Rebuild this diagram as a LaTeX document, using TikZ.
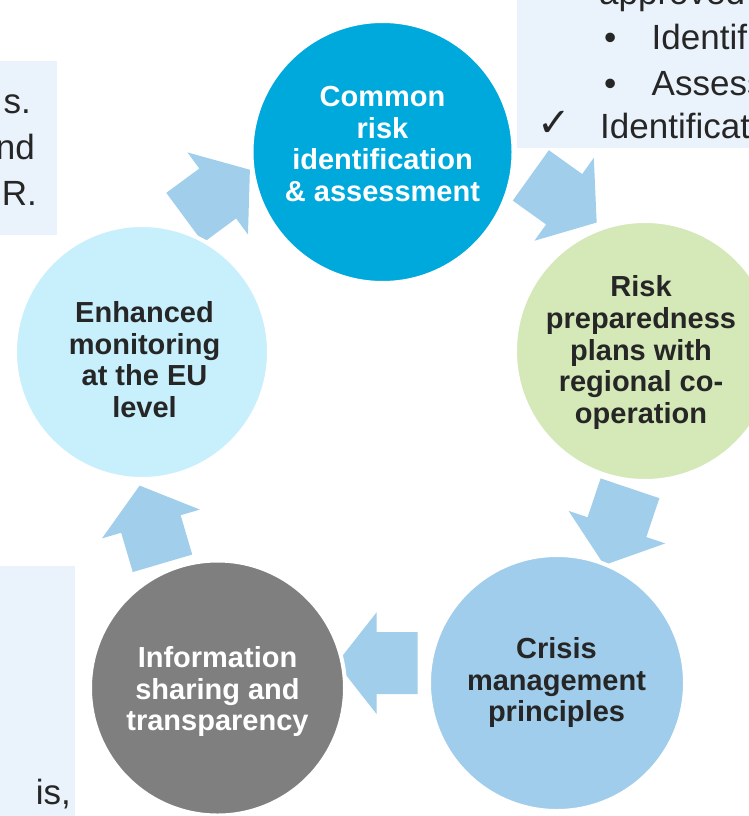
\documentclass[tikz,border=0pt]{standalone}
\usepackage{fontspec}
\setmainfont{Liberation Sans}
\newfontfamily\djv{DejaVu Sans}
\definecolor{cTop}{HTML}{00A9DC}
\definecolor{cGreen}{HTML}{D4E8B8}
\definecolor{cPale}{HTML}{C8F0FC}
\definecolor{cGray}{HTML}{7F7F7F}
\definecolor{cCrisis}{HTML}{9FCDEB}
\definecolor{cArrow}{HTML}{A0CEEB}
\definecolor{cBox}{HTML}{EAF3FB}
\definecolor{cText}{HTML}{262626}
\tikzset{
  circ/.style={circle, draw=white, line width=4pt, inner sep=0pt},
  ctext/.style={inner sep=0pt, align=center, font=\fontsize{29}{31.7}\selectfont\bfseries},
  btext/.style={inner sep=0pt, text=cText, font=\fontsize{35}{42}\selectfont},
  blockarrow/.style={fill=cArrow},
}
\newcommand\barrow[2]{\fill[blockarrow, shift={(#1)}, rotate=#2]
  (0,-31) -- (41,-31) -- (41,-51) -- (81,0) -- (41,51) -- (41,31) -- (0,31) -- cycle;}
\begin{document}
\begin{tikzpicture}[x=1pt,y=-1pt]
\useasboundingbox (0,0) rectangle (749,816);
\clip (0,0) rectangle (749,816);
% side text boxes
\fill[cBox] (0,61) rectangle (57,235);
\fill[cBox] (517,-5) rectangle (760,148);
\fill[cBox] (0,566) rectangle (75,820);
\node[btext, anchor=base east] (l1) at (31,113) {s.};
\node[btext, anchor=base east] (l2) at (35,159) {nd};
\node[btext, anchor=base east] (l3) at (37,205) {R.};
\node[btext, anchor=base west] (r0) at (599,4.5) {approved};
\node[btext, anchor=base west] (b1) at (604,50) {•};
\node[btext, anchor=base west] (r1) at (651.5,50) {Identification};
\node[btext, anchor=base west] (b2) at (604,95) {•};
\node[btext, anchor=base west] (r2) at (651.5,95) {Assessment};
\node[btext, anchor=base west] (ck) at (537,136) {\djv\fontsize{40}{44}\selectfont ✓};
\node[btext, anchor=base west] (r3) at (600,138.3) {Identification};
\node[btext, anchor=base east] (bl) at (71,804) {is,};
% arrow tails
\coordinate (a1) at (184.7,217.8);
\coordinate (a2) at (530.8,175.4);
\coordinate (a3) at (630,488.3);
\coordinate (a4) at (417.7,663.2);
\coordinate (a5) at (162.5,563.3);
\barrow{a1}{36.4}
\barrow{a2}{-35.6}
\barrow{a3}{-108.6}
\barrow{a4}{180}
\barrow{a5}{106.4}
% circles
\node[circ, fill=cTop, minimum size=262pt] (c1) at (382.5,152) {};
\node[circ, fill=cGreen, minimum size=260pt] (c2) at (645,351) {};
\node[circ, fill=cCrisis, minimum size=256pt] (c3) at (557,683) {};
\node[circ, fill=cGray, minimum size=255pt] (c4) at (217.5,688) {};
\node[circ, fill=cPale, minimum size=254pt] (c5) at (142,352) {};
% circle texts
\node[ctext, text=white] (t1) at (382.5,144) {Common\\risk\\identification\\\& assessment};
\node[ctext, text=cText] (t2) at (641,352.6) {Risk\\preparedness\\plans with\\regional co-\\operation};
\node[ctext, text=cText] (t3) at (556.5,682.6) {Crisis\\management\\principles};
\node[ctext, text=white] (t4) at (217.5,691.7) {Information\\sharing and\\transparency};
\node[ctext, text=cText] (t5) at (144.5,359.5) {Enhanced\\monitoring\\at the EU\\level};
\end{tikzpicture}
\end{document}
